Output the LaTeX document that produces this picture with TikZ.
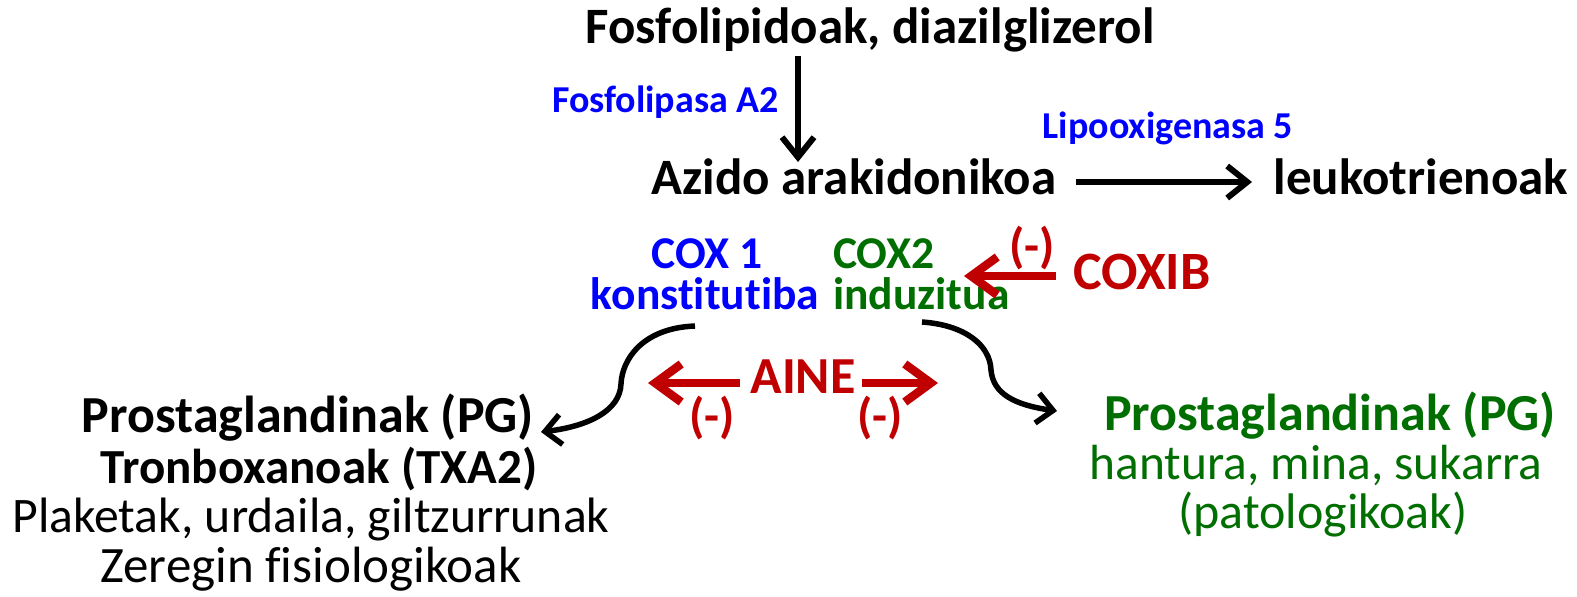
\documentclass[tikz,border=0pt]{standalone}
\usepackage{fontspec}
\setmainfont{Carlito}[Ligatures={NoCommon}]
\usetikzlibrary{arrows.meta}
\definecolor{enzblue}{RGB}{0,0,255}
\definecolor{pgreen}{RGB}{0,110,0}
\definecolor{inhred}{RGB}{192,0,0}
\tikzset{
  lbl/.style={anchor=base, inner sep=0pt, font=\fontsize{#1}{#1}\selectfont\bfseries},
  lbl/.default=50,
  plain/.style={anchor=base, inner sep=0pt, font=\fontsize{#1}{#1}\selectfont},
  plain/.default=50,
  flow/.style={line width=6pt, -{Straight Barb[length=20pt, width=32pt, line width=6pt]}},
  curvy/.style={line width=5.5pt, -{Straight Barb[length=16pt, width=30pt, line width=5.5pt]}},
  block/.style={line width=8.5pt, inhred, -{Straight Barb[length=26pt, width=38pt, line width=8.5pt]}},
}
\begin{document}
\begin{tikzpicture}[x=1pt, y=-1pt]
\useasboundingbox (0,0) rectangle (1577,597);

% top of the pathway
\node[lbl=51] (fosfo) at (870,43) {Fosfolipidoak, diazilglizerol};
\node[lbl=38, enzblue, anchor=base east] (pla2) at (779,112) {Fosfolipasa A2};
\node[lbl=51] (azido) at (854,194) {Azido arakidonikoa};
\node[lbl=51] (leuko) at (1421,194) {leukotrienoak};
\node[lbl=38, enzblue] (lipo) at (1168,138) {Lipooxigenasa 5};

\coordinate (fosfoS) at (798,56);
\coordinate (azidoN) at (798,162);
\draw[flow] (fosfoS) -- (azidoN);
\coordinate (azidoE) at (1076,182);
\coordinate (leukoW) at (1252,182);
\draw[flow] (azidoE) -- (leukoW);

% cyclooxygenases
\node[lbl=45.5, enzblue] (cox1) at (707,268) {COX 1};
\node[lbl=45.5, enzblue] (cox1b) at (705,309) {konstitutiba};
\node[lbl=45.5, pgreen, anchor=base west] (cox2) at (833,268) {COX2};
\node[lbl=45.5, pgreen, anchor=base west] (cox2b) at (833,309) {induzitua};

% COXIB inhibition
\node[lbl=54, inhred] (coxib) at (1142,289) {COXIB};
\node[lbl=49, inhred] (minc) at (1032,262) {(-)};
\coordinate (coxibW) at (1056,276);
\coordinate (cox2E) at (964,276);
\draw[block] (coxibW) -- (cox2E);

% AINE inhibition of both isoforms
\node[lbl=52, inhred] (aine) at (803,393) {AINE};
\coordinate (aineW) at (740,383);
\coordinate (aineE) at (862,383);
\coordinate (leftT) at (648,383);
\coordinate (rightT) at (938,383);
\draw[block] (aineW) -- (leftT);
\draw[block] (aineE) -- (rightT);
\node[lbl=49, inhred] (minl) at (712,432) {(-)};
\node[lbl=49, inhred] (minr) at (880,432) {(-)};

% products
\node[lbl=52] (pg1) at (308,432) {Prostaglandinak (PG)};
\node[lbl=49] (txa) at (319,483) {Tronboxanoak (TXA2)};
\node[plain=49.7] (plak) at (311,532) {Plaketak, urdaila, giltzurrunak};
\node[plain=51] (zer) at (311,582) {Zeregin fisiologikoak};

\node[lbl=52, pgreen] (pg2) at (1330,430) {Prostaglandinak (PG)};
\node[plain=49.4, pgreen] (hant) at (1316,479) {hantura, mina, sukarra};
\node[plain=50, pgreen] (pato) at (1323,528) {(patologikoak)};

% curved connectors to the products
\coordinate (cox1S) at (695,326);
\coordinate (pg1E) at (541,432);
\draw[curvy]
  (cox1S) .. controls (642,328) and (622,360) .. (621,384)
          .. controls (620,410) and (590,426) .. (pg1E);
\coordinate (cox2S) at (922,322);
\coordinate (pg2W) at (1057,411);
\draw[curvy]
  (cox2S) .. controls (965,325) and (990,345) .. (991,370)
          .. controls (993,394) and (1015,405) .. (pg2W);
\end{tikzpicture}
\end{document}
